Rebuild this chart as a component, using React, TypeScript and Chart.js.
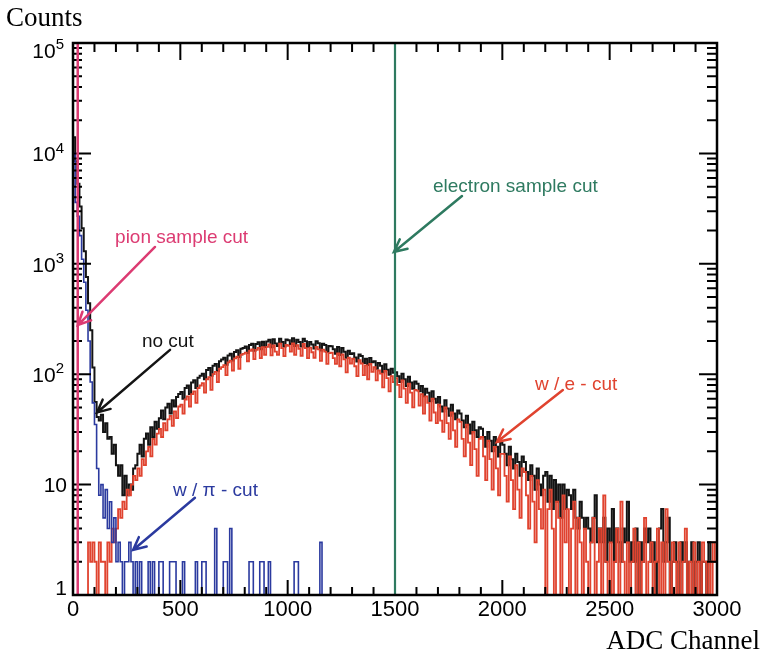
import React, { useEffect, useRef } from 'react';
import { Chart, registerables } from 'chart.js';

Chart.register(...registerables);

// ---- data ----
const BIN_WIDTH = 10; // ADC channels per bin
const X_MIN = 0;
const X_MAX = 3000;
const Y_MIN = 1;
const Y_MAX = 100000;
const X_TICK_VALUES = [0, 500, 1000, 1500, 2000, 2500, 3000];
const X_TICK_LABELS = ['0', '500', '1000', '1500', '2000', '2500', '3000'];
const Y_DECADES = [1, 10, 100, 1000, 10000, 100000];
const Y_EXPONENTS = ['', '', '2', '3', '4', '5'];
const ELECTRON_CUT = 1500;
const PION_CUT = 22;

// counts per 10-channel bin, "no cut"
const noCut = [
  14000, 8500, 5300, 3300, 2100, 1300, 760, 440, 250, 115,
  56, 41, 38, 43, 30, 36, 26, 27, 19, 23,
  15, 12, 15, 8, 12, 8, 10, 9, 14, 15,
  19, 23, 18, 26, 29, 23, 33, 27, 37, 32,
  40, 47, 39, 50, 54, 44, 58, 51, 62, 66,
  69, 60, 75, 79, 66, 84, 88, 75, 93, 97,
  101, 90, 109, 114, 97, 119, 124, 107, 131, 136,
  141, 122, 148, 153, 133, 159, 165, 143, 170, 173,
  178, 156, 184, 189, 163, 188, 195, 168, 197, 176,
  198, 205, 175, 207, 190, 180, 210, 196, 178, 206,
  203, 188, 212, 180, 205, 196, 178, 210, 199, 176,
  196, 186, 171, 199, 191, 164, 189, 184, 160, 180,
  179, 168, 153, 176, 149, 173, 160, 141, 163, 152,
  155, 142, 130, 151, 146, 126, 138, 121, 140, 128,
  131, 112, 126, 119, 104, 123, 110, 99, 112, 103,
  104, 96, 85, 101, 90, 78, 95, 84, 74, 86,
  82, 70, 78, 63, 74, 68, 57, 70, 60, 55,
  62, 51, 46, 58, 49, 42, 53, 44, 39, 47,
  44, 38, 33, 42, 35, 29, 37, 31, 27, 33,
  32, 27, 22, 30, 25, 20, 27, 22, 18, 24,
  23, 19, 15, 22, 17, 14, 19, 16, 12, 18,
  16, 13, 11, 15, 12, 9, 14, 10, 8, 12,
  13, 7, 12, 6, 11, 7, 10, 5, 10, 6,
  9, 8, 6, 9, 5, 4, 7, 5, 4, 5,
  4, 3, 5, 8, 3, 4, 3, 5, 2, 4,
  3, 6, 2, 4, 3, 2, 4, 3, 7, 2,
  3, 2, 4, 1, 3, 2, 4, 3, 4, 2,
  3, 1, 2, 4, 6, 2, 3, 5, 1, 2,
  3, 2, 1, 3, 2, 3, 1, 2, 3, 1,
  2, 3, 1, 2, 2, 1, 3, 2, 2, 2,
];

// counts per bin, "w / e - cut"
const eCut = [
  0, 0, 0, 0, 0, 0, 0, 3, 2, 3,
  2, 0, 3, 2, 2, 0, 3, 2, 4, 3,
  4, 6, 5, 7, 6, 9, 8, 10, 12, 11,
  14, 12, 17, 15, 20, 22, 18, 26, 23, 29,
  32, 27, 36, 31, 39, 42, 34, 46, 40, 51,
  53, 44, 59, 63, 51, 66, 70, 55, 75, 79,
  83, 68, 90, 94, 72, 100, 105, 85, 112, 116,
  121, 98, 128, 133, 108, 139, 144, 112, 150, 153,
  157, 131, 163, 168, 137, 166, 173, 140, 176, 150,
  177, 186, 148, 182, 160, 150, 189, 172, 146, 184,
  181, 160, 190, 150, 183, 170, 147, 188, 172, 140,
  174, 158, 141, 177, 168, 132, 167, 160, 124, 155,
  157, 140, 124, 154, 118, 151, 136, 104, 141, 125,
  138, 118, 96, 134, 125, 98, 120, 90, 124, 105,
  116, 88, 108, 101, 76, 107, 92, 70, 96, 85,
  92, 80, 62, 88, 74, 55, 82, 68, 50, 72,
  71, 52, 66, 44, 63, 55, 38, 60, 45, 36,
  53, 38, 30, 50, 36, 26, 45, 31, 22, 39,
  37, 26, 18, 35, 24, 15, 30, 21, 12, 26,
  27, 18, 11, 25, 17, 9, 22, 14, 8, 19,
  19, 12, 7, 18, 11, 6, 15, 9, 5, 14,
  13, 8, 4, 12, 7, 3, 11, 6, 4, 9,
  0, 6, 9, 4, 0, 7, 5, 0, 8, 3,
  6, 0, 4, 7, 0, 5, 3, 0, 4, 2,
  0, 3, 5, 0, 2, 4, 0, 8, 2, 0,
  3, 0, 2, 4, 0, 7, 2, 0, 3, 0,
  2, 4, 0, 3, 0, 2, 5, 0, 2, 3,
  0, 2, 4, 0, 3, 0, 6, 2, 0, 3,
  2, 0, 3, 0, 2, 4, 0, 2, 0, 3,
  0, 2, 0, 3, 2, 0, 2, 0, 3, 2,
];

// counts per bin, "w / pi - cut" (0 .. 1290)
const piCut = [
  10000, 3600, 2700, 1800, 1100, 680, 380, 200, 85, 55,
  35, 14, 8, 10, 5, 9, 4, 7, 3, 5,
  2, 3, 2, 0, 2, 2, 3, 2, 0, 2,
  0, 2, 0, 0, 0, 2, 0, 2, 0, 0,
  2, 2, 0, 0, 0, 2, 2, 2, 0, 0,
  0, 2, 0, 0, 0, 0, 0, 2, 0, 0,
  2, 2, 0, 0, 0, 0, 4, 0, 0, 0,
  2, 2, 0, 4, 0, 0, 0, 0, 0, 0,
  0, 0, 2, 2, 0, 0, 0, 2, 2, 0,
  0, 2, 0, 0, 0, 0, 0, 0, 0, 0,
  0, 0, 0, 2, 2, 0, 0, 0, 0, 0,
  0, 0, 0, 0, 0, 3, 0, 0, 0, 0,
  0, 0, 0, 0, 0, 0, 0, 0, 0, 0,
];

// ---- colours ----
const BLACK = '#141414';
const RED = '#e0432f';
const BLUE = '#2b3a9f';
const PINK = '#dc3b72';
const GREEN = '#2e7a60';

// annotation anchors in data coordinates (ADC channel, counts)
const annotations = [
  { text: 'pion sample cut', color: PINK, tx: 196, ty: 1543, from: [382, 1420], to: [23, 279] },
  { text: 'no cut', color: BLACK, tx: 321, ty: 176, from: [452, 166], to: [112, 45] },
  { text: 'electron sample cut', color: GREEN, tx: 1677, ty: 4470, from: [1812, 4110], to: [1495, 1279] },
  { text: 'w / e - cut', color: RED, tx: 2152, ty: 72, from: [2282, 72], to: [1975, 24.3] },
  { text: 'w / \u03c0 - cut', color: BLUE, tx: 466, ty: 7.9, from: [568, 7.6], to: [280, 2.56] },
];

const SANS = '"Liberation Sans", Arial, Helvetica, sans-serif';
const SERIF = '"Liberation Serif", "Times New Roman", serif';

function toSteps(values: number[]) {
  const pts = values.map((v, i) => ({ x: X_MIN + i * BIN_WIDTH, y: Math.max(v, Y_MIN) }));
  pts.push({ x: X_MIN + values.length * BIN_WIDTH, y: Math.max(values[values.length - 1], Y_MIN) });
  return pts;
}

const decorPlugin = {
  id: 'decor',
  afterDatasetsDraw(chart: any) {
    const { ctx, chartArea: a } = chart;
    const x = chart.scales.x;
    const y = chart.scales.y;
    ctx.save();

    // ticks
    ctx.strokeStyle = '#000';
    ctx.lineWidth = 2;
    ctx.beginPath();
    for (let v = X_MIN; v <= X_MAX; v += 100) {
      const px = x.getPixelForValue(v);
      const major = v % 500 === 0;
      ctx.moveTo(px, a.bottom);
      ctx.lineTo(px, a.bottom - (major ? 15 : 8));
      ctx.moveTo(px, a.top);
      ctx.lineTo(px, a.top + (major ? 17 : 9));
    }
    for (let d = 0; d < Y_DECADES.length; d++) {
      const base = Y_DECADES[d];
      const py = y.getPixelForValue(base);
      ctx.moveTo(a.left, py);
      ctx.lineTo(a.left + 18, py);
      ctx.moveTo(a.right, py);
      ctx.lineTo(a.right - 18, py);
      if (d < Y_DECADES.length - 1) {
        for (let m = 2; m <= 9; m++) {
          const pm = y.getPixelForValue(base * m);
          ctx.moveTo(a.left, pm);
          ctx.lineTo(a.left + 9, pm);
          ctx.moveTo(a.right, pm);
          ctx.lineTo(a.right - 10, pm);
        }
      }
    }
    ctx.stroke();

    // cut lines
    const vline = (v: number, color: string, w: number) => {
      const px = x.getPixelForValue(v);
      ctx.strokeStyle = color;
      ctx.lineWidth = w;
      ctx.beginPath();
      ctx.moveTo(px, a.top);
      ctx.lineTo(px, a.bottom);
      ctx.stroke();
    };
    vline(ELECTRON_CUT, GREEN, 2.2);
    vline(PION_CUT, PINK, 2.5);

    // annotations with arrows
    ctx.font = `19px ${SANS}`;
    ctx.textBaseline = 'alphabetic';
    ctx.textAlign = 'left';
    for (const an of annotations) {
      ctx.fillStyle = an.color;
      ctx.fillText(an.text, x.getPixelForValue(an.tx), y.getPixelForValue(an.ty));
      const x0 = x.getPixelForValue(an.from[0]);
      const y0 = y.getPixelForValue(an.from[1]);
      const x1 = x.getPixelForValue(an.to[0]);
      const y1 = y.getPixelForValue(an.to[1]);
      ctx.strokeStyle = an.color;
      ctx.lineWidth = 2.5;
      ctx.lineCap = 'round';
      ctx.beginPath();
      ctx.moveTo(x0, y0);
      ctx.lineTo(x1, y1);
      const ang = Math.atan2(y0 - y1, x0 - x1);
      const L = 14;
      const spread = 0.45;
      ctx.moveTo(x1 + L * Math.cos(ang + spread), y1 + L * Math.sin(ang + spread));
      ctx.lineTo(x1, y1);
      ctx.lineTo(x1 + L * Math.cos(ang - spread), y1 + L * Math.sin(ang - spread));
      ctx.stroke();
    }
    ctx.lineCap = 'butt';

    // frame
    ctx.strokeStyle = '#000';
    ctx.lineWidth = 2.5;
    ctx.strokeRect(a.left, a.top, a.right - a.left, a.bottom - a.top);

    // x tick labels
    ctx.fillStyle = '#000';
    ctx.font = `22px ${SANS}`;
    ctx.textAlign = 'center';
    ctx.textBaseline = 'middle';
    X_TICK_VALUES.forEach((v, i) => {
      ctx.fillText(X_TICK_LABELS[i], x.getPixelForValue(v), a.bottom + 15);
    });

    // y tick labels
    ctx.textAlign = 'right';
    Y_DECADES.forEach((v, i) => {
      const py = y.getPixelForValue(v);
      const exp = Y_EXPONENTS[i];
      if (v === 1) {
        ctx.font = `21px ${SANS}`;
        ctx.fillText('1', a.left - 6, py - 6);
      } else if (exp === '') {
        ctx.font = `21px ${SANS}`;
        ctx.fillText(String(v), a.left - 6, py + 2);
      } else {
        const cy = Math.max(py + 2, a.top + 9);
        ctx.font = `15px ${SANS}`;
        const ew = ctx.measureText(exp).width;
        const right = a.left - 9;
        ctx.fillText(exp, right, cy - 7);
        ctx.font = `21px ${SANS}`;
        ctx.fillText('10', right - ew, cy);
      }
    });

    // axis titles
    ctx.font = `27px ${SERIF}`;
    ctx.textBaseline = 'alphabetic';
    ctx.textAlign = 'left';
    ctx.fillText('Counts', 6, 26);
    ctx.font = `27px ${SERIF}`;
    ctx.textAlign = 'right';
    ctx.fillText('ADC Channel', 760, 649);

    ctx.restore();
  },
};

export default function App() {
  const canvasRef = useRef<HTMLCanvasElement | null>(null);

  useEffect(() => {
    const canvas = canvasRef.current;
    if (!canvas) return;
    const chart = new Chart(canvas, {
      type: 'line',
      data: {
        datasets: [
          {
            label: 'w / pi - cut',
            data: toSteps(piCut),
            borderColor: BLUE,
            borderWidth: 1.6,
            stepped: true,
            pointRadius: 0,
            fill: false,
            order: 0,
          },
          {
            label: 'w / e - cut',
            data: toSteps(eCut),
            borderColor: RED,
            borderWidth: 1.8,
            stepped: true,
            pointRadius: 0,
            fill: false,
            order: 1,
          },
          {
            label: 'no cut',
            data: toSteps(noCut),
            borderColor: BLACK,
            borderWidth: 2,
            stepped: true,
            pointRadius: 0,
            fill: false,
            order: 2,
          },
        ],
      },
      options: {
        responsive: false,
        animation: false,
        devicePixelRatio: 1,
        parsing: { xAxisKey: 'x', yAxisKey: 'y' },
        layout: { padding: { left: 73, right: 49, top: 43, bottom: 65 } },
        plugins: { legend: { display: false }, tooltip: { enabled: false } },
        events: [],
        scales: {
          x: { type: 'linear', min: X_MIN, max: X_MAX, display: false },
          y: { type: 'logarithmic', min: Y_MIN, max: Y_MAX, display: false },
        },
      },
      plugins: [decorPlugin],
    });
    return () => chart.destroy();
  }, []);

  return (
    <div style={{ position: 'absolute', left: 0, top: 0, width: 766, height: 660, background: '#fff' }}>
      <canvas ref={canvasRef} width={766} height={660} style={{ display: 'block' }} />
    </div>
  );
}
